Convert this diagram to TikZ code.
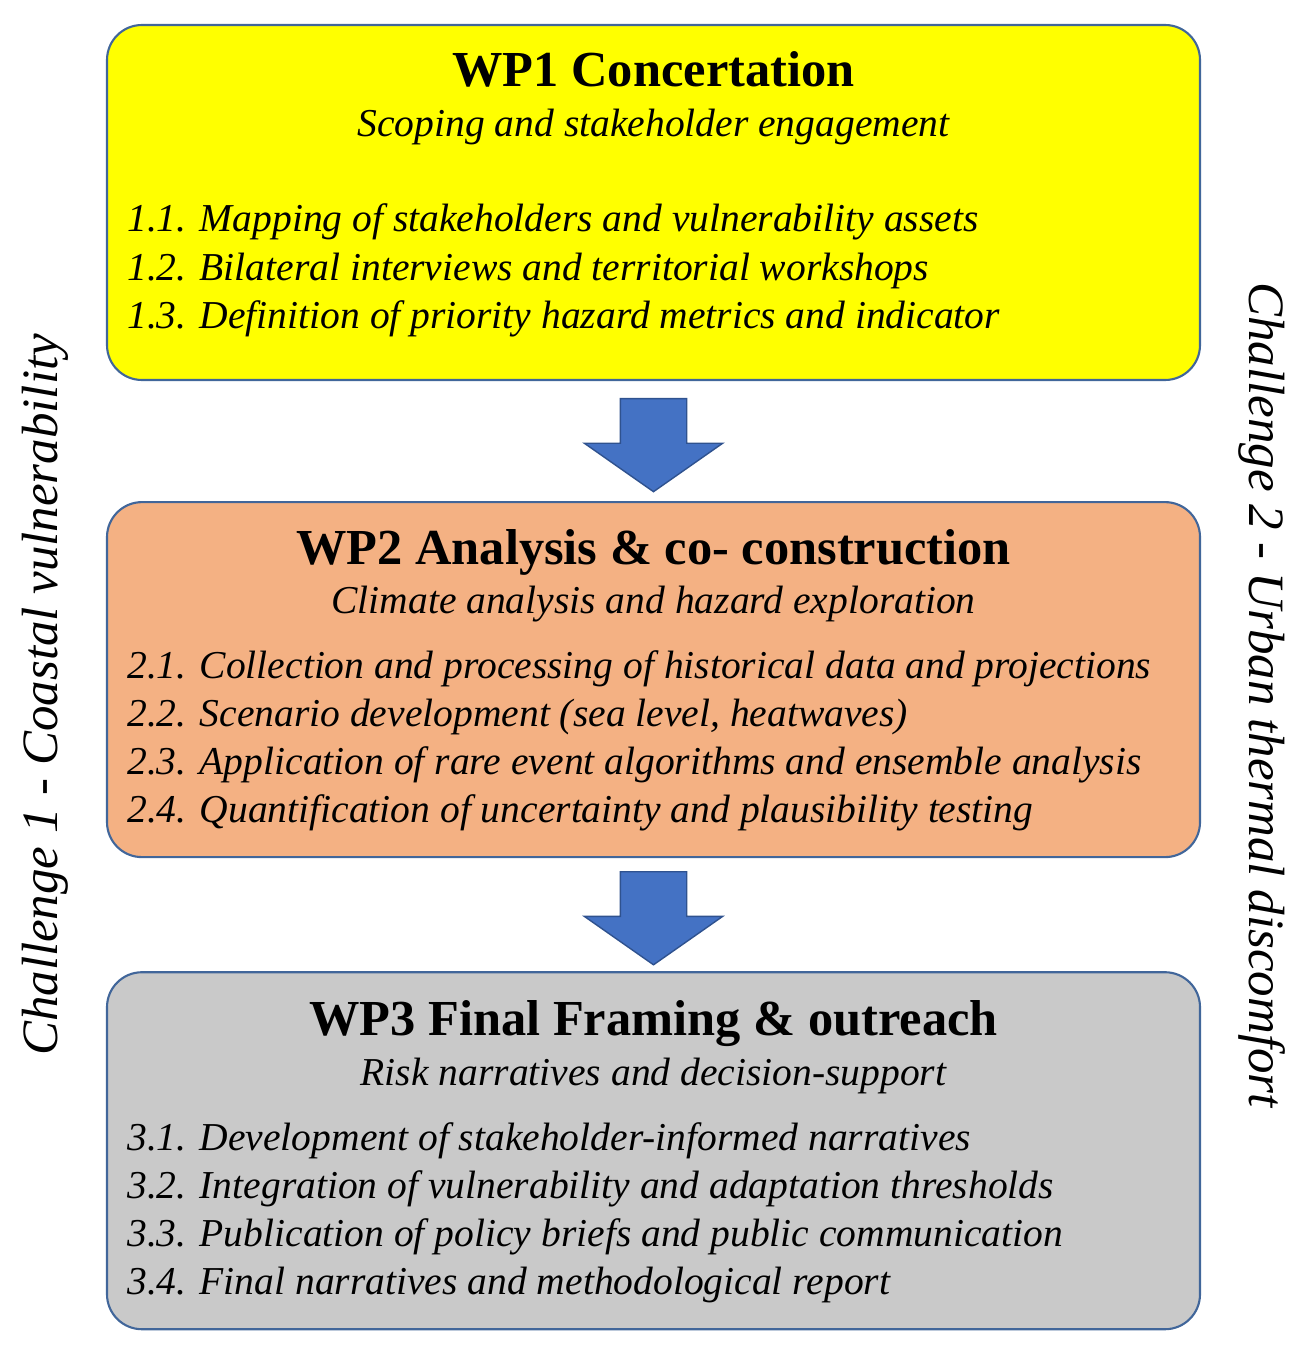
\documentclass[tikz,border=0pt]{standalone}
\usepackage{fontspec}
\setmainfont{Liberation Serif}
\usetikzlibrary{positioning,shapes.arrows,calc}
\definecolor{wpedge}{HTML}{41669A}
\definecolor{wpyellow}{HTML}{FFFF00}
\definecolor{wporange}{HTML}{F4B183}
\definecolor{wpgrey}{HTML}{C9C9C9}
\definecolor{flowblue}{HTML}{4472C4}
\definecolor{flowedge}{HTML}{2F528F}
\tikzset{
  wp/.style={rectangle, rounded corners=0.7cm, draw=wpedge, fill=#1,
             line width=1.2pt, minimum width=21.86cm, minimum height=7.1cm,
             inner sep=0pt},
  ttl/.style={font=\fontsize{28.7}{32}\selectfont\bfseries, anchor=base, inner sep=0pt},
  sub/.style={font=\fontsize{22.5}{26}\selectfont\itshape, anchor=base, inner sep=0pt},
  item/.style={font=\fontsize{22.5}{26}\selectfont\itshape, inner sep=0pt,
               text height=0.63cm, text depth=0.32cm},
  flow/.style={single arrow, draw=flowedge, fill=flowblue, line width=0.8pt,
               shape border rotate=270, minimum height=1.86cm, minimum width=2.74cm,
               single arrow head extend=0.72cm, single arrow tip angle=110,
               inner xsep=0.65cm, inner ysep=0pt},
  side/.style={font=\fontsize{29}{32}\selectfont\itshape, inner sep=0pt},
}
\begin{document}
\begin{tikzpicture}
  \useasboundingbox (0,0) rectangle (26.08,-27.08);

  % work packages
  \node[wp=wpyellow] (wp1) at (13.07,-4.05) {};
  \node[wp=wporange, below=2.4cm of wp1] (wp2) {};
  \node[wp=wpgrey, below=2.26cm of wp2, minimum height=7.14cm] (wp3) {};

  % WP1
  \node[ttl] (t1) at ($(wp1.north)+(0,-1.26)$) {WP1 Concertation};
  \node[sub] (s1) at ($(wp1.north)+(0,-2.26)$) {Scoping and stakeholder engagement};
  \node[item, anchor=base west] (i11) at ($(wp1.north west)+(0.42,-4.16)$) {1.1. Mapping of stakeholders and vulnerability assets};
  \node[item, anchor=north west] (i12) at (i11.south west) {1.2. Bilateral interviews and territorial workshops};
  \node[item, anchor=north west] (i13) at (i12.south west) {1.3. Definition of priority hazard metrics and indicator};

  % WP2
  \node[ttl] (t2) at ($(wp2.north)+(0,-1.26)$) {WP2 Analysis \& co- construction};
  \node[sub] (s2) at ($(wp2.north)+(0,-2.24)$) {Climate analysis and hazard exploration};
  \node[item, anchor=base west] (i21) at ($(wp2.north west)+(0.42,-3.54)$) {2.1. Collection and processing of historical data and projections};
  \node[item, anchor=north west] (i22) at (i21.south west) {2.2. Scenario development (sea level, heatwaves)};
  \node[item, anchor=north west] (i23) at (i22.south west) {2.3. Application of rare event algorithms and ensemble analysis};
  \node[item, anchor=north west] (i24) at (i23.south west) {2.4. Quantification of uncertainty and plausibility testing};

  % WP3
  \node[ttl] (t3) at ($(wp3.north)+(0,-1.28)$) {WP3 Final Framing \& outreach};
  \node[sub] (s3) at ($(wp3.north)+(0,-2.28)$) {Risk narratives and decision-support};
  \node[item, anchor=base west] (i31) at ($(wp3.north west)+(0.42,-3.58)$) {3.1. Development of stakeholder-informed narratives};
  \node[item, anchor=north west] (i32) at (i31.south west) {3.2. Integration of vulnerability and adaptation thresholds};
  \node[item, anchor=north west] (i33) at (i32.south west) {3.3. Publication of policy briefs and public communication};
  \node[item, anchor=north west] (i34) at (i33.south west) {3.4. Final narratives and methodological report};

  % block arrows
  \node[flow] (f1) at ($(wp1.south)!0.5!(wp2.north)+(0,0.15)$) {};
  \node[flow] (f2) at ($(wp2.south)!0.5!(wp3.north)+(0,0.16)$) {};

  % challenges
  \node[side, rotate=90] (c1) at (0.9,-13.9) {Challenge 1 - Coastal vulnerability};
  \node[side, rotate=-90] (c2) at (25.24,-13.9) {Challenge 2 - Urban thermal discomfort};
\end{tikzpicture}
\end{document}
